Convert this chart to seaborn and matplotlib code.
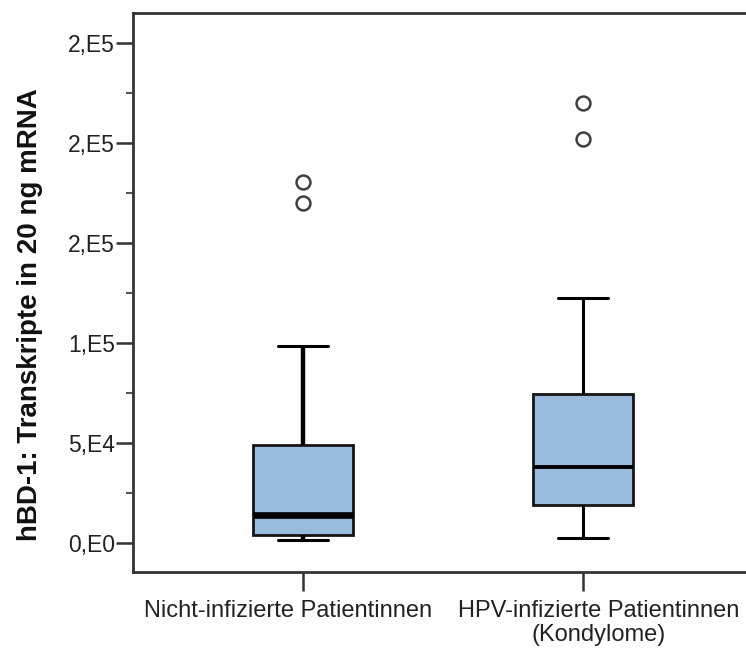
import matplotlib
matplotlib.use("Agg")
import matplotlib.pyplot as plt
import matplotlib.transforms as mtransforms
import seaborn as sns
import pandas as pd

# categories and five-number summaries
gruppen = ["Nicht-infizierte Patientinnen", "HPV-infizierte Patientinnen\n(Kondylome)"]
minimum = [1500, 2500]
q1 = [4000, 19000]
median = [14000, 38000]
q3 = [49000, 74500]
maximum = [98500, 122500]
ausreisser = [[170000, 180500], [202000, 220000]]

y_ticks = [0, 50000, 100000, 150000, 200000, 250000]
y_labels = ["0,E0", "5,E4", "1,E5", "2,E5", "2,E5", "2,E5"]
y_minor = [25000, 75000, 125000, 175000, 225000]

# long table whose quartiles/whiskers reproduce the summaries above
rows = []
for g, lo, a, m, b, hi, out in zip(gruppen, minimum, q1, median, q3, maximum, ausreisser):
    werte = [lo] + [a] * 3 + [m] * 3 + [b] * 3 + [hi] + out
    rows += [(g, w) for w in werte]
df = pd.DataFrame(rows, columns=["gruppe", "wert"])

sns.set_style("ticks")
plt.rcParams["font.family"] = ["Liberation Sans", "DejaVu Sans"]

fig = plt.figure(figsize=(7.46, 6.55), dpi=100)
ax = fig.add_axes([133 / 746, 1 - 572 / 655, (751 - 133) / 746, (572 - 13) / 655])

sns.boxplot(data=df, x="gruppe", y="wert", order=gruppen, ax=ax,
            color="#99bbdd", width=0.357, whis=1.5, linecolor="#151515",
            linewidth=2.0, saturation=1,
            medianprops=dict(color="black", linewidth=2.8),
            whiskerprops=dict(color="black", linewidth=2.0),
            capprops=dict(color="black", linewidth=2.2),
            capwidths=0.18,
            flierprops=dict(marker="o", markersize=10, markerfacecolor="none",
                            markeredgecolor="#404040", markeredgewidth=1.8))

# the left group is drawn heavier in the original
for ln in ax.lines:
    xd, yd = ln.get_xdata(), ln.get_ydata()
    if len(xd) != 2:
        continue
    links = (xd[0] + xd[1]) / 2 < 0.5
    if yd[0] == yd[1] and abs(xd[1] - xd[0]) > 0.3:
        ln.set_linewidth(4.8 if links else 2.8)
    elif xd[0] == xd[1]:
        ln.set_linewidth(3.2 if links else 2.2)

ax.set_xlim(-0.607, 1.6)
ax.set_ylim(-14500, 265000)
ax.set_yticks(y_ticks)
ax.set_yticklabels(y_labels)
ax.set_yticks(y_minor, minor=True)

ax.tick_params(axis="y", which="major", length=12, width=1.8, labelsize=16.5, pad=1,
               color="#333333", labelcolor="#222222")
ax.tick_params(axis="y", which="minor", length=5, width=1.5, color="#555555")
ax.tick_params(axis="x", which="major", length=14, width=1.8, labelsize=17, pad=6,
               color="#333333", labelcolor="#222222")

# labels sit a little off their ticks in the original
for lab, dx in zip(ax.get_xticklabels(), [-15, 16]):
    lab.set_linespacing(1.15)
    lab.set_transform(lab.get_transform() +
                      mtransforms.ScaledTranslation(dx / 100, 0, fig.dpi_scale_trans))

for s in ax.spines.values():
    s.set_linewidth(2.0)
    s.set_color("#333333")

ax.set_xlabel("")
ax.set_ylabel("hBD-1: Transkripte in 20 ng mRNA", fontsize=20, fontweight="bold",
              color="#111111")
ax.yaxis.set_label_coords(-0.145, 0.46)

fig.savefig("out.png", dpi=100, facecolor="white")
